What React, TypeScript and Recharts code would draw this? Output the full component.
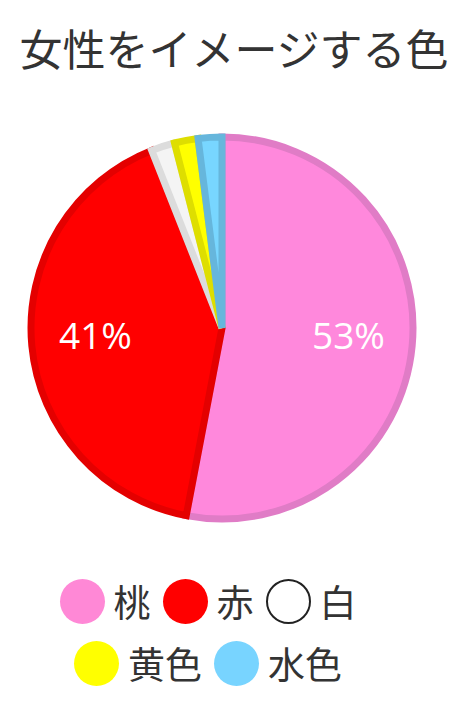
import React from "react";
import { PieChart, Pie, Cell, Legend } from "recharts";

const categories = ["桃", "赤", "白", "黄色", "水色"];
const values = [53, 41, 2, 2, 2];
const labelTexts = ["53%", "41%", "", "", ""];
const fillColors = ["#ff88dc", "#ff0000", "#f4f4f4", "#ffff00", "#78d6ff"];
const strokeColors = ["#e07cc6", "#e40000", "#dcdcdc", "#dede00", "#66b6dc"];
const legendColors = ["#ff88d6", "#ff0000", "#ffffff", "#ffff00", "#78d4ff"];

const data = categories.map((name, i) => ({ name, value: values[i], label: labelTexts[i] }));

const RAD = Math.PI / 180;

const renderLabel = (props: any) => {
  const { cx, cy, midAngle, outerRadius, index } = props;
  const text = labelTexts[index];
  if (!text) return null;
  const r = (outerRadius + 3) * 0.655;
  const x = cx + r * Math.cos(-midAngle * RAD);
  const y = cy + r * Math.sin(-midAngle * RAD) - 5;
  return (
    <text
      x={x}
      y={y}
      fill="#ffffff"
      textAnchor="middle"
      dominantBaseline="central"
      fontSize={37}
      fontFamily="'Open Sans', 'Noto Sans', sans-serif"
    >
      {text}
    </text>
  );
};

const renderLegend = () => (
  <div
    style={{
      display: "flex",
      flexWrap: "wrap",
      justifyContent: "center",
      columnGap: 12,
      rowGap: 17,
      width: 300,
    }}
  >
    {categories.map((c, i) => (
      <div key={c} style={{ display: "flex", alignItems: "center", height: 45 }}>
        <span
          style={{
            display: "inline-block",
            width: i === 2 ? 41 : 45,
            height: i === 2 ? 41 : 45,
            borderRadius: "50%",
            background: legendColors[i],
            border: i === 2 ? "2px solid #222" : "none",
          }}
        />
        <span
          style={{
            marginLeft: 9,
            fontSize: 37,
            lineHeight: "45px",
            color: "#333",
            fontFamily: "'Noto Sans CJK JP', sans-serif",
          }}
        >
          {c}
        </span>
      </div>
    ))}
  </div>
);

export default function App() {
  return (
    <div style={{ position: "absolute", left: 0, top: 0, width: 472, height: 702, background: "#fff" }}>
      <div
        style={{
          position: "absolute",
          left: 0,
          top: 19,
          width: 468,
          textAlign: "center",
          fontSize: 43,
          lineHeight: "56px",
          color: "#333",
          fontFamily: "'Noto Sans CJK JP', sans-serif",
          zIndex: 1,
        }}
      >
        女性をイメージする色
      </div>
      <PieChart width={472} height={702} margin={{ top: 0, right: 0, bottom: 0, left: 0 }}>
        <Pie
          data={data}
          dataKey="value"
          nameKey="name"
          cx={222}
          cy={328}
          outerRadius={191}
          startAngle={90}
          endAngle={-270}
          label={renderLabel}
          labelLine={false}
          isAnimationActive={false}
        >
          {data.map((d, i) => (
            <Cell key={d.name} fill={fillColors[i]} stroke={strokeColors[i]} strokeWidth={7} />
          ))}
        </Pie>
        <Legend
          content={renderLegend}
          verticalAlign="bottom"
          align="left"
          wrapperStyle={{ position: "absolute", left: 58, top: 579, bottom: "auto", width: 300 }}
        />
      </PieChart>
    </div>
  );
}
